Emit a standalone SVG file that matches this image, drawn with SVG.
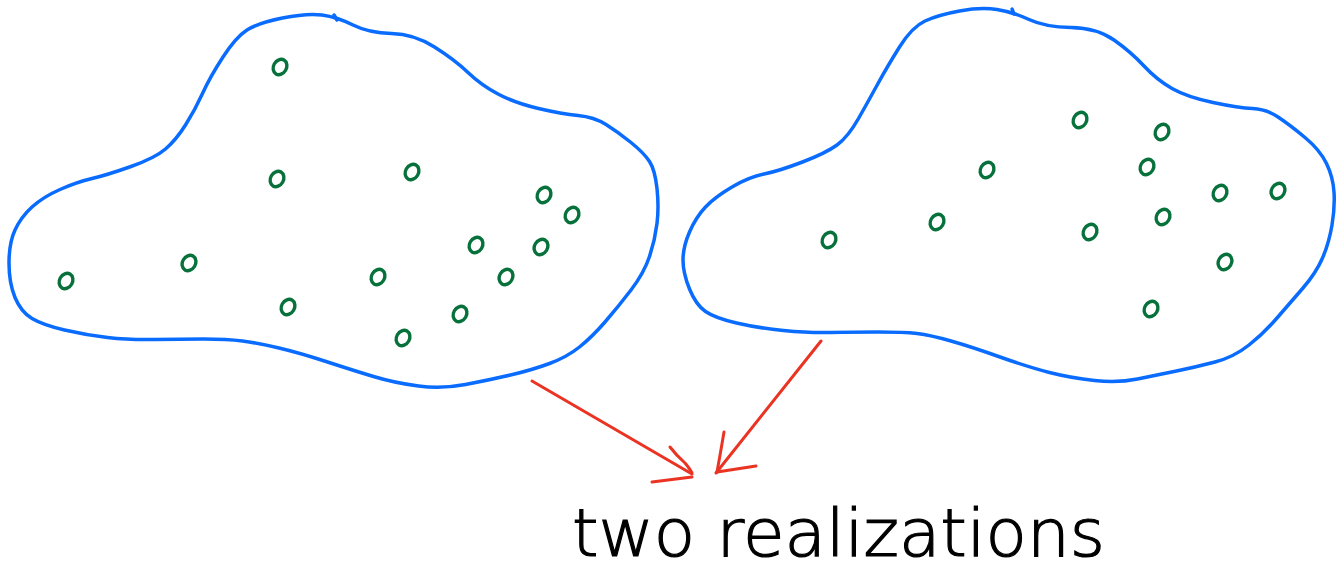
<svg xmlns="http://www.w3.org/2000/svg" width="1344" height="571" viewBox="0 0 1344 571">
<style>
.blob{fill:none;stroke:#0a6cff;stroke-width:3.5;stroke-linejoin:round;stroke-linecap:round}
.pt{fill:none;stroke:#06713a;stroke-width:3.4}
.arr{fill:none;stroke:#ea3323;stroke-width:3;stroke-linecap:round;stroke-linejoin:round}
.lbl{font-family:"DejaVu Sans","Liberation Sans",sans-serif;font-weight:200;font-size:66px;fill:#000;stroke:#000;stroke-width:1.2}
</style>
<rect width="1344" height="571" fill="#fff"/>
<g id="realization-1">
<path class="blob" d="M322,15 Q337,17 353,25 Q369,33 391.5,33.5 Q414,34 434.5,47 Q455,60 468,72.5 Q481,85 498,94 Q515,103 538.5,108.5 Q562,114 578,115.5 Q594,117 606,124.5 Q618,132 631,142.5 Q644,153 649.5,161.5 Q655,170 657,188.5 Q659,207 657,223.5 Q655,240 649.5,256.5 Q644,273 631,290 Q618,307 605,322 Q592,337 579.5,347 Q567,357 549.5,363.5 Q532,370 510.5,375 Q489,380 465.5,384.5 Q442,389 418.5,386 Q395,383 373.5,376.5 Q352,370 326,361.5 Q300,353 279,348 Q258,343 242.5,341 Q227,339 203.5,339 Q180,339 154.5,339.5 Q129,340 107.5,337.5 Q86,335 64.5,330 Q43,325 32,318.5 Q21,312 15,297.5 Q9,283 9,263 Q9,243 15,230 Q21,217 32,207 Q43,197 60,189.5 Q77,182 92,178.5 Q107,175 131,166.5 Q155,158 165.5,149 Q176,140 185.5,125 Q195,110 202.5,93.5 Q210,77 223,57 Q236,37 247,30 Q258,23 282.5,18 Q307,13 322,15 Z"/>
<path class="blob" d="M334,15 L337,20"/>
<ellipse class="pt" cx="280" cy="67" rx="6.5" ry="8" transform="rotate(30 280 67)"/>
<ellipse class="pt" cx="277" cy="179" rx="6.5" ry="8" transform="rotate(30 277 179)"/>
<ellipse class="pt" cx="412" cy="172" rx="6.5" ry="8" transform="rotate(30 412 172)"/>
<ellipse class="pt" cx="544" cy="195" rx="6.5" ry="8" transform="rotate(30 544 195)"/>
<ellipse class="pt" cx="572" cy="215" rx="6.5" ry="8" transform="rotate(30 572 215)"/>
<ellipse class="pt" cx="476" cy="245" rx="6.5" ry="8" transform="rotate(30 476 245)"/>
<ellipse class="pt" cx="541" cy="247" rx="6.5" ry="8" transform="rotate(30 541 247)"/>
<ellipse class="pt" cx="506" cy="277" rx="6.5" ry="8" transform="rotate(30 506 277)"/>
<ellipse class="pt" cx="378" cy="277" rx="6.5" ry="8" transform="rotate(30 378 277)"/>
<ellipse class="pt" cx="460" cy="314" rx="6.5" ry="8" transform="rotate(30 460 314)"/>
<ellipse class="pt" cx="403" cy="338" rx="6.5" ry="8" transform="rotate(30 403 338)"/>
<ellipse class="pt" cx="288" cy="307" rx="6.5" ry="8" transform="rotate(30 288 307)"/>
<ellipse class="pt" cx="189" cy="263" rx="6.5" ry="8" transform="rotate(30 189 263)"/>
<ellipse class="pt" cx="66" cy="281" rx="6.5" ry="8" transform="rotate(30 66 281)"/>
</g>
<g id="realization-2">
<path class="blob" d="M997,9.5 Q1013,12 1029,19.5 Q1045,27 1071,27.5 Q1097,28 1114,40 Q1131,52 1144,66 Q1157,80 1172,88.5 Q1187,97 1213,102.5 Q1239,108 1252.5,108.5 Q1266,109 1278,117 Q1290,125 1305,137.5 Q1320,150 1326.5,163.5 Q1333,177 1334,192 Q1335,207 1332,225 Q1329,243 1322.5,258 Q1316,273 1303,288 Q1290,303 1277,318 Q1264,333 1249,345 Q1234,357 1215,362 Q1196,367 1176.5,371 Q1157,375 1137.5,379 Q1118,383 1094.5,380.5 Q1071,378 1049.5,372.5 Q1028,367 1000,357 Q972,347 951,341 Q930,335 917,333.5 Q904,332 878,332 Q852,332 830.5,332.5 Q809,333 783.5,330.5 Q758,328 736.5,323 Q715,318 705.5,311.5 Q696,305 689.5,289 Q683,273 683,260 Q683,247 689.5,232 Q696,217 705.5,207 Q715,197 732,187 Q749,177 764,174 Q779,171 802.5,162 Q826,153 837,145 Q848,137 858.5,118.5 Q869,100 878,83.5 Q887,67 899.5,47 Q912,27 925,21 Q938,15 959.5,11 Q981,7 997,9.5 Z"/>
<path class="blob" d="M1012,9 L1014,14"/>
<ellipse class="pt" cx="1080" cy="120" rx="6.5" ry="8" transform="rotate(30 1080 120)"/>
<ellipse class="pt" cx="1162" cy="132" rx="6.5" ry="8" transform="rotate(30 1162 132)"/>
<ellipse class="pt" cx="987" cy="170" rx="6.5" ry="8" transform="rotate(30 987 170)"/>
<ellipse class="pt" cx="1147" cy="167" rx="6.5" ry="8" transform="rotate(30 1147 167)"/>
<ellipse class="pt" cx="1220" cy="193" rx="6.5" ry="8" transform="rotate(30 1220 193)"/>
<ellipse class="pt" cx="1278" cy="191" rx="6.5" ry="8" transform="rotate(30 1278 191)"/>
<ellipse class="pt" cx="937" cy="222" rx="6.5" ry="8" transform="rotate(30 937 222)"/>
<ellipse class="pt" cx="1163" cy="217" rx="6.5" ry="8" transform="rotate(30 1163 217)"/>
<ellipse class="pt" cx="1090" cy="232" rx="6.5" ry="8" transform="rotate(30 1090 232)"/>
<ellipse class="pt" cx="1225" cy="262" rx="6.5" ry="8" transform="rotate(30 1225 262)"/>
<ellipse class="pt" cx="829" cy="240" rx="6.5" ry="8" transform="rotate(30 829 240)"/>
<ellipse class="pt" cx="1151" cy="309" rx="6.5" ry="8" transform="rotate(30 1151 309)"/>
</g>
<g id="connectors">
<path class="arr" d="M532,381 L692,474"/>
<path class="arr" d="M670,447 Q676,455 685,463 Q690,469 692,473"/>
<path class="arr" d="M652,482 L692,477"/>
<path class="arr" d="M821,341 L716,473"/>
<path class="arr" d="M724,432 Q721,450 717,472"/>
<path class="arr" d="M756,466 L717,472"/>
</g>
<g id="label">
<text class="lbl" x="572" y="556" textLength="533" lengthAdjust="spacingAndGlyphs">two realizations</text>
</g>
</svg>
